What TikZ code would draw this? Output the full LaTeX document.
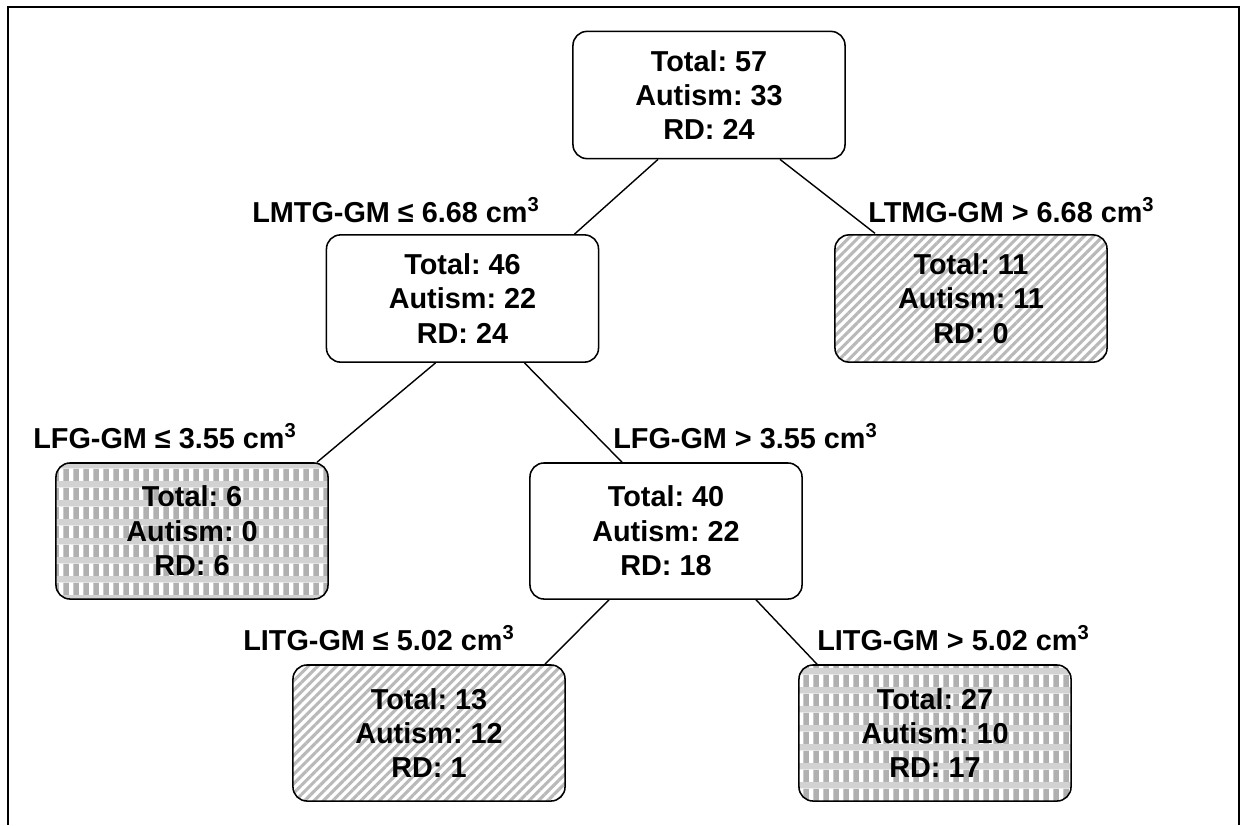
\documentclass[tikz,border=0pt]{standalone}
\usepackage{fontspec}
\setmainfont{Liberation Sans}
\usetikzlibrary{patterns,patterns.meta,calc}
\pgfdeclarepatterninherentlycolored{plaid}{\pgfpointorigin}{\pgfqpoint{7.11pt}{13.3pt}}{\pgfqpoint{7.11pt}{13.3pt}}{
\pgfsetfillcolor{gray!62}\pgfpathrectangle{\pgfpointorigin}{\pgfqpoint{7.11pt}{13.3pt}}\pgfusepath{fill}
\pgfsetfillcolor{white}\pgfpathrectangle{\pgfqpoint{0pt}{4.3pt}}{\pgfqpoint{3.2pt}{9pt}}\pgfusepath{fill}
\pgfsetfillcolor{gray!35}\pgfpathrectangle{\pgfpointorigin}{\pgfqpoint{7.11pt}{4.3pt}}\pgfusepath{fill}
}
\tikzset{every picture/.append style={x=0.025cm, y=-0.025cm}}
\tikzset{txt/.style={font=\fontsize{20.5}{24.5}\selectfont\bfseries\frenchspacing}}
\tikzset{box/.style={txt, draw, rounded corners=10pt, line width=1.1pt, minimum width=6.8cm, minimum height=3.18cm, align=center}}
\tikzset{tallbox/.style={box, minimum height=3.4cm}}
\tikzset{stripes/.style={pattern={Lines[angle=45,distance=4.7pt,line width=2.2pt]}, pattern color=gray!55}}
\tikzset{checks/.style={pattern=plaid}}
\tikzset{split/.style={txt, inner sep=0pt, anchor=base west}}
\tikzset{edge/.style={line width=1pt}}
\tikzset{frame/.style={line width=1.8pt}}

\begin{document}
\begin{tikzpicture}
\useasboundingbox (0,0) rectangle (1244,825);
\draw[frame] (8,825)--(8,7)--(1239,7)--(1239,825);

\node (t57) at (709,95)[box]{Total: 57\\Autism: 33\\RD: 24};
\node (t46) at (462.5,298.5)[box]{Total: 46\\Autism: 22\\RD: 24};
\node (t11) at (971,298.5)[box, stripes]{Total: 11\\Autism: 11\\RD: 0};
\node (t6) at (192,531)[tallbox, checks]{Total: 6\\Autism: 0\\RD: 6};
\node (t40) at (666,531)[tallbox]{Total: 40\\Autism: 22\\RD: 18};
\node (t13) at (429,733)[tallbox, stripes]{Total: 13\\Autism: 12\\RD: 1};
\node (t27) at (935,733)[tallbox, checks]{Total: 27\\Autism: 10\\RD: 17};

\draw[edge] ($(t57.south)+(-51,0)$)--($(t46.north)+(112,0)$);
\draw[edge] ($(t57.south)+(71,0)$)--($(t11.north)+(-96,0)$);
\draw[edge] ($(t46.south)+(-27,0)$)--($(t6.north)+(125,0)$);
\draw[edge] ($(t46.south)+(62,0)$)--($(t40.north)+(-44,0)$);
\draw[edge] ($(t40.south)+(-57,0)$)--($(t13.north)+(116,0)$);
\draw[edge] ($(t40.south)+(90,0)$)--($(t27.north)+(-118,0)$);

%split rules
\node (s1) at (252,222)[split]{LMTG-GM ≤ 6.68 cm\textsuperscript{3}};
\node (s2) at (868,222)[split]{LTMG-GM > 6.68 cm\textsuperscript{3}};
\node (s3) at (33,448)[split]{LFG-GM ≤ 3.55 cm\textsuperscript{3}};
\node (s4) at (613,448)[split]{LFG-GM > 3.55 cm\textsuperscript{3}};
\node (s5) at (243,650)[split]{LITG-GM ≤ 5.02 cm\textsuperscript{3}};
\node (s6) at (817,650)[split]{LITG-GM > 5.02 cm\textsuperscript{3}};
\end{tikzpicture}
\end{document}
